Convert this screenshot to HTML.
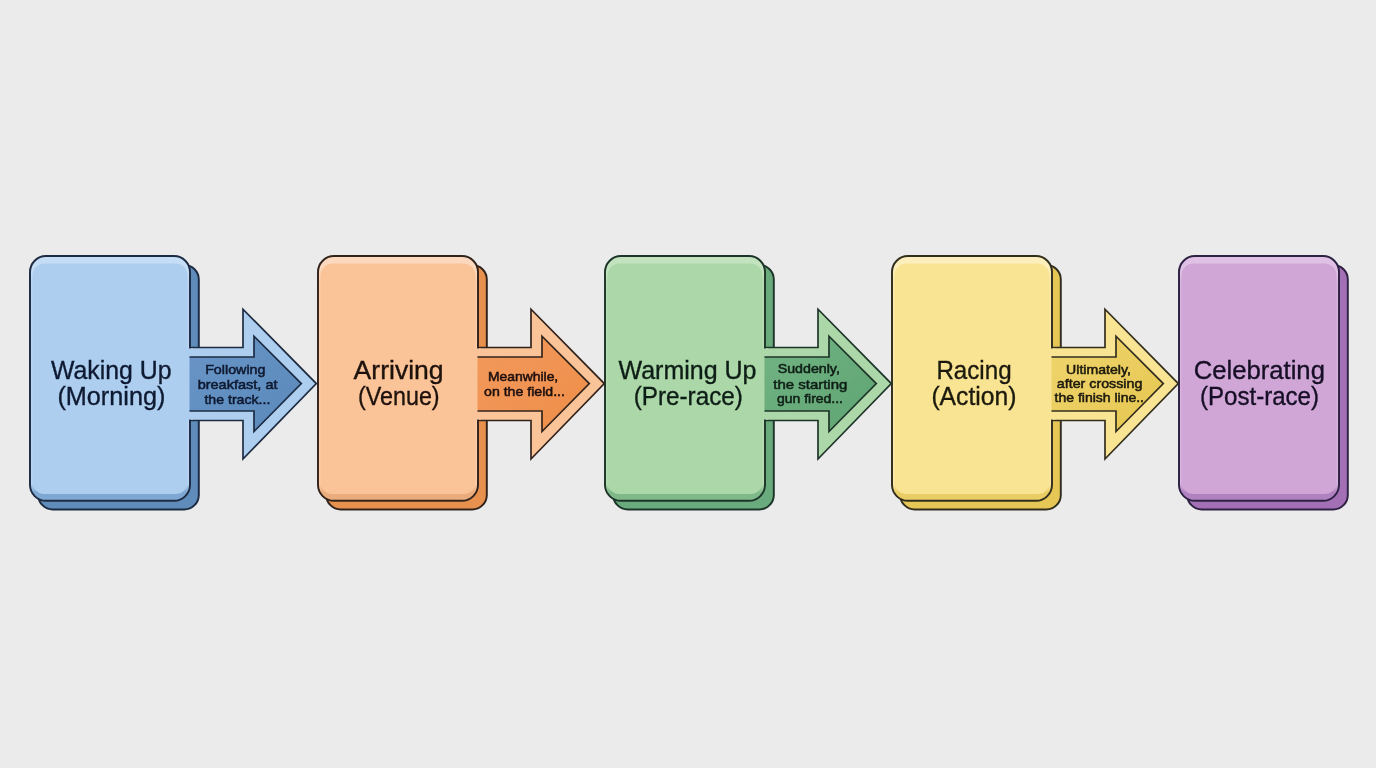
<!DOCTYPE html>
<html><head><meta charset="utf-8"><title>Race Day Timeline</title>
<style>
html,body{margin:0;padding:0;background:#ebebeb;}
body{width:1376px;height:768px;overflow:hidden;font-family:"Liberation Sans",sans-serif;}
svg{display:block;}
text{font-family:"Liberation Sans",sans-serif;}
</style></head><body>
<svg width="1376" height="768" viewBox="0 0 1376 768">
<rect width="1376" height="768" fill="#ebebeb"/>
<defs><filter id="soft" x="0" y="0" width="1376" height="768" filterUnits="userSpaceOnUse"><feGaussianBlur stdDeviation="0.38"/></filter><filter id="bev" x="-5%" y="-5%" width="110%" height="110%"><feGaussianBlur stdDeviation="0.5"/></filter><filter id="softt" x="0" y="0" width="1376" height="768" filterUnits="userSpaceOnUse"><feGaussianBlur stdDeviation="0.35"/></filter><clipPath id="c0"><rect x="30.975" y="256.975" width="158.05" height="242.85000000000002" rx="15.025" ry="15.025" /></clipPath><linearGradient id="lo0" gradientUnits="userSpaceOnUse" x1="0" y1="256.0" x2="0" y2="500.8"><stop offset="0" stop-color="#c6ddf6"/><stop offset="0.06" stop-color="#c6ddf6"/><stop offset="0.12" stop-color="#b9d5f3"/><stop offset="0.93" stop-color="#b9d5f3"/><stop offset="0.965" stop-color="#7fa7d3"/><stop offset="1" stop-color="#7fa7d3"/></linearGradient><linearGradient id="ig0" x1="0" y1="0" x2="1" y2="1"><stop offset="0" stop-color="#6995c6"/><stop offset="1" stop-color="#5a89bb"/></linearGradient><clipPath id="c1"><rect x="318.975" y="256.975" width="158.05" height="242.85000000000002" rx="15.025" ry="15.025" /></clipPath><linearGradient id="lo1" gradientUnits="userSpaceOnUse" x1="0" y1="256.0" x2="0" y2="500.8"><stop offset="0" stop-color="#fcd9be"/><stop offset="0.06" stop-color="#fcd9be"/><stop offset="0.12" stop-color="#fbcda9"/><stop offset="0.93" stop-color="#fbcda9"/><stop offset="0.965" stop-color="#eaac7c"/><stop offset="1" stop-color="#eaac7c"/></linearGradient><linearGradient id="ig1" x1="0" y1="0" x2="1" y2="1"><stop offset="0" stop-color="#f29a5c"/><stop offset="1" stop-color="#ee8d49"/></linearGradient><clipPath id="c2"><rect x="605.975" y="256.975" width="158.05" height="242.85000000000002" rx="15.025" ry="15.025" /></clipPath><linearGradient id="lo2" gradientUnits="userSpaceOnUse" x1="0" y1="256.0" x2="0" y2="500.8"><stop offset="0" stop-color="#c3e3bf"/><stop offset="0.06" stop-color="#c3e3bf"/><stop offset="0.12" stop-color="#b6dcb2"/><stop offset="0.93" stop-color="#b6dcb2"/><stop offset="0.965" stop-color="#7fb98a"/><stop offset="1" stop-color="#7fb98a"/></linearGradient><linearGradient id="ig2" x1="0" y1="0" x2="1" y2="1"><stop offset="0" stop-color="#72b383"/><stop offset="1" stop-color="#5fa472"/></linearGradient><clipPath id="c3"><rect x="892.975" y="256.975" width="158.05" height="242.85000000000002" rx="15.025" ry="15.025" /></clipPath><linearGradient id="lo3" gradientUnits="userSpaceOnUse" x1="0" y1="256.0" x2="0" y2="500.8"><stop offset="0" stop-color="#fcefbb"/><stop offset="0.06" stop-color="#fcefbb"/><stop offset="0.12" stop-color="#fae9a6"/><stop offset="0.93" stop-color="#fae9a6"/><stop offset="0.965" stop-color="#e9cc63"/><stop offset="1" stop-color="#e9cc63"/></linearGradient><linearGradient id="ig3" x1="0" y1="0" x2="1" y2="1"><stop offset="0" stop-color="#efd56e"/><stop offset="1" stop-color="#e6c650"/></linearGradient><clipPath id="c4"><rect x="1179.975" y="256.975" width="158.05" height="242.85000000000002" rx="15.025" ry="15.025" /></clipPath><linearGradient id="lo4" gradientUnits="userSpaceOnUse" x1="0" y1="256.0" x2="0" y2="500.8"><stop offset="0" stop-color="#e0c1e6"/><stop offset="0.06" stop-color="#e0c1e6"/><stop offset="0.12" stop-color="#d7b2dd"/><stop offset="0.93" stop-color="#d7b2dd"/><stop offset="0.965" stop-color="#b081c0"/><stop offset="1" stop-color="#b081c0"/></linearGradient></defs>
<g filter="url(#soft)">
<g><rect x="1187.2" y="265.0" width="160.6" height="244.4" rx="14.5" ry="14.5" fill="#a470b5" stroke="#2e2043" stroke-width="1.95"/>
<rect x="1179.0" y="256.0" width="160.0" height="244.8" rx="16" ry="16" fill="url(#lo4)"/>
<g clip-path="url(#c4)">
<rect x="1181.475" y="263.375" width="155.05" height="230.65" rx="12" ry="12" fill="#cfa6d5" filter="url(#bev)"/>
</g>
<rect x="1179.0" y="256.0" width="160.0" height="244.8" rx="16" ry="16" fill="none" stroke="#2e2043" stroke-width="1.95"/></g>
<g><rect x="900.2" y="265.0" width="160.6" height="244.4" rx="14.5" ry="14.5" fill="#e6c757" stroke="#332e1f" stroke-width="1.95"/>
<path d="M1047.0,347.5 L1105.0,347.5 L1105.0,309.2 L1178.3,383.6 L1105.0,459.0 L1105.0,420.5 L1047.0,420.5" fill="#f9e494" stroke="#332e1f" stroke-width="1.7" stroke-linejoin="miter"/>
<rect x="892.0" y="256.0" width="160.0" height="244.8" rx="16" ry="16" fill="url(#lo3)"/>
<g clip-path="url(#c3)">
<rect x="894.475" y="263.375" width="155.05" height="230.65" rx="12" ry="12" fill="#f9e494" filter="url(#bev)"/>
</g>
<rect x="1046.0" y="348.48" width="9" height="71.05" fill="#f9e494"/>
<rect x="892.0" y="256.0" width="160.0" height="244.8" rx="16" ry="16" fill="none" stroke="#332e1f" stroke-width="1.95"/>
<rect x="1050.5" y="348.48" width="4" height="71.05" fill="#f9e494"/>
<path d="M1051.5,357.0 L1116.0,357.0 L1116.0,336.2 L1163.3,383.6 L1116.0,431.5 L1116.0,411.0 L1051.5,411.0" fill="url(#ig3)" stroke="#332e1f" stroke-width="1.7" stroke-linejoin="miter"/></g>
<g><rect x="613.2" y="265.0" width="160.6" height="244.4" rx="14.5" ry="14.5" fill="#6aab7e" stroke="#1f3529" stroke-width="1.95"/>
<path d="M760.0,347.5 L818.0,347.5 L818.0,309.2 L891.3,383.6 L818.0,459.0 L818.0,420.5 L760.0,420.5" fill="#acd7a8" stroke="#1f3529" stroke-width="1.7" stroke-linejoin="miter"/>
<rect x="605.0" y="256.0" width="160.0" height="244.8" rx="16" ry="16" fill="url(#lo2)"/>
<g clip-path="url(#c2)">
<rect x="607.475" y="263.375" width="155.05" height="230.65" rx="12" ry="12" fill="#acd7a8" filter="url(#bev)"/>
</g>
<rect x="759.0" y="348.48" width="9" height="71.05" fill="#acd7a8"/>
<rect x="605.0" y="256.0" width="160.0" height="244.8" rx="16" ry="16" fill="none" stroke="#1f3529" stroke-width="1.95"/>
<rect x="763.5" y="348.48" width="4" height="71.05" fill="#acd7a8"/>
<path d="M764.5,357.0 L829.0,357.0 L829.0,336.2 L876.3,383.6 L829.0,431.5 L829.0,411.0 L764.5,411.0" fill="url(#ig2)" stroke="#1f3529" stroke-width="1.7" stroke-linejoin="miter"/></g>
<g><rect x="326.2" y="265.0" width="160.6" height="244.4" rx="14.5" ry="14.5" fill="#e8914f" stroke="#33241d" stroke-width="1.95"/>
<path d="M473.0,347.5 L531.0,347.5 L531.0,309.2 L604.3,383.6 L531.0,459.0 L531.0,420.5 L473.0,420.5" fill="#fbc498" stroke="#33241d" stroke-width="1.7" stroke-linejoin="miter"/>
<rect x="318.0" y="256.0" width="160.0" height="244.8" rx="16" ry="16" fill="url(#lo1)"/>
<g clip-path="url(#c1)">
<rect x="320.475" y="263.375" width="155.05" height="230.65" rx="12" ry="12" fill="#fbc498" filter="url(#bev)"/>
</g>
<rect x="472.0" y="348.48" width="9" height="71.05" fill="#fbc498"/>
<rect x="318.0" y="256.0" width="160.0" height="244.8" rx="16" ry="16" fill="none" stroke="#33241d" stroke-width="1.95"/>
<rect x="476.5" y="348.48" width="4" height="71.05" fill="#fbc498"/>
<path d="M477.5,357.0 L542.0,357.0 L542.0,336.2 L589.3,383.6 L542.0,431.5 L542.0,411.0 L477.5,411.0" fill="url(#ig1)" stroke="#33241d" stroke-width="1.7" stroke-linejoin="miter"/></g>
<g><rect x="38.2" y="265.0" width="160.6" height="244.4" rx="14.5" ry="14.5" fill="#5f8cbb" stroke="#1d2c42" stroke-width="1.95"/>
<path d="M185.0,347.5 L243.0,347.5 L243.0,309.2 L316.3,383.6 L243.0,459.0 L243.0,420.5 L185.0,420.5" fill="#aecef0" stroke="#1d2c42" stroke-width="1.7" stroke-linejoin="miter"/>
<rect x="30.0" y="256.0" width="160.0" height="244.8" rx="16" ry="16" fill="url(#lo0)"/>
<g clip-path="url(#c0)">
<rect x="32.475" y="263.375" width="155.05" height="230.65" rx="12" ry="12" fill="#aecef0" filter="url(#bev)"/>
</g>
<rect x="184.0" y="348.48" width="9" height="71.05" fill="#aecef0"/>
<rect x="30.0" y="256.0" width="160.0" height="244.8" rx="16" ry="16" fill="none" stroke="#1d2c42" stroke-width="1.95"/>
<rect x="188.5" y="348.48" width="4" height="71.05" fill="#aecef0"/>
<path d="M189.5,357.0 L254.0,357.0 L254.0,336.2 L301.3,383.6 L254.0,431.5 L254.0,411.0 L189.5,411.0" fill="url(#ig0)" stroke="#1d2c42" stroke-width="1.7" stroke-linejoin="miter"/></g>
</g>
<g filter="url(#softt)">
<text x="111.2" y="378.6" font-size="25.2" stroke="#0d1a30" stroke-width="0.35" text-anchor="middle" textLength="120.5" lengthAdjust="spacingAndGlyphs" fill="#0d1a30">Waking Up</text>
<text x="111.4" y="405.2" font-size="25.2" stroke="#0d1a30" stroke-width="0.35" text-anchor="middle" textLength="108.0" lengthAdjust="spacingAndGlyphs" fill="#0d1a30">(Morning)</text>
<text x="235.3" y="373.5" font-size="13.6" stroke="#0d1a30" stroke-width="0.55" text-anchor="middle" textLength="60.3" lengthAdjust="spacingAndGlyphs" fill="#0d1a30">Following</text>
<text x="237.6" y="388.6" font-size="13.6" stroke="#0d1a30" stroke-width="0.55" text-anchor="middle" textLength="79.9" lengthAdjust="spacingAndGlyphs" fill="#0d1a30">breakfast, at</text>
<text x="237.4" y="403.6" font-size="13.6" stroke="#0d1a30" stroke-width="0.55" text-anchor="middle" textLength="65.9" lengthAdjust="spacingAndGlyphs" fill="#0d1a30">the track...</text>
<text x="398.6" y="378.6" font-size="25.2" stroke="#1f120c" stroke-width="0.35" text-anchor="middle" textLength="90.0" lengthAdjust="spacingAndGlyphs" fill="#1f120c">Arriving</text>
<text x="398.8" y="405.2" font-size="25.2" stroke="#1f120c" stroke-width="0.35" text-anchor="middle" textLength="81.6" lengthAdjust="spacingAndGlyphs" fill="#1f120c">(Venue)</text>
<text x="523.1" y="380.6" font-size="13.6" stroke="#1f120c" stroke-width="0.55" text-anchor="middle" textLength="70.3" lengthAdjust="spacingAndGlyphs" fill="#1f120c">Meanwhile,</text>
<text x="524.5" y="395.7" font-size="13.6" stroke="#1f120c" stroke-width="0.55" text-anchor="middle" textLength="80.9" lengthAdjust="spacingAndGlyphs" fill="#1f120c">on the field...</text>
<text x="687.5" y="378.6" font-size="25.2" stroke="#0e1f16" stroke-width="0.35" text-anchor="middle" textLength="138.0" lengthAdjust="spacingAndGlyphs" fill="#0e1f16">Warming Up</text>
<text x="688.3" y="405.2" font-size="25.2" stroke="#0e1f16" stroke-width="0.35" text-anchor="middle" textLength="109.0" lengthAdjust="spacingAndGlyphs" fill="#0e1f16">(Pre-race)</text>
<text x="808.8" y="373.3" font-size="13.6" stroke="#0e1f16" stroke-width="0.55" text-anchor="middle" textLength="62.1" lengthAdjust="spacingAndGlyphs" fill="#0e1f16">Suddenly,</text>
<text x="810.3" y="388.8" font-size="13.6" stroke="#0e1f16" stroke-width="0.55" text-anchor="middle" textLength="74.1" lengthAdjust="spacingAndGlyphs" fill="#0e1f16">the starting</text>
<text x="810.0" y="403.4" font-size="13.6" stroke="#0e1f16" stroke-width="0.55" text-anchor="middle" textLength="66.0" lengthAdjust="spacingAndGlyphs" fill="#0e1f16">gun fired...</text>
<text x="974.0" y="378.6" font-size="25.2" stroke="#1c1a0c" stroke-width="0.35" text-anchor="middle" textLength="75.2" lengthAdjust="spacingAndGlyphs" fill="#1c1a0c">Racing</text>
<text x="973.9" y="405.2" font-size="25.2" stroke="#1c1a0c" stroke-width="0.35" text-anchor="middle" textLength="85.0" lengthAdjust="spacingAndGlyphs" fill="#1c1a0c">(Action)</text>
<text x="1098.5" y="374.4" font-size="13.6" stroke="#1c1a0c" stroke-width="0.55" text-anchor="middle" textLength="64.8" lengthAdjust="spacingAndGlyphs" fill="#1c1a0c">Ultimately,</text>
<text x="1099.6" y="388.2" font-size="13.6" stroke="#1c1a0c" stroke-width="0.55" text-anchor="middle" textLength="85.6" lengthAdjust="spacingAndGlyphs" fill="#1c1a0c">after crossing</text>
<text x="1099.3" y="401.9" font-size="13.6" stroke="#1c1a0c" stroke-width="0.55" text-anchor="middle" textLength="89.4" lengthAdjust="spacingAndGlyphs" fill="#1c1a0c">the finish line..</text>
<text x="1259.3" y="378.6" font-size="25.2" stroke="#170f26" stroke-width="0.35" text-anchor="middle" textLength="131.3" lengthAdjust="spacingAndGlyphs" fill="#170f26">Celebrating</text>
<text x="1259.5" y="405.2" font-size="25.2" stroke="#170f26" stroke-width="0.35" text-anchor="middle" textLength="119.0" lengthAdjust="spacingAndGlyphs" fill="#170f26">(Post-race)</text>
</g>
</svg>
</body></html>
